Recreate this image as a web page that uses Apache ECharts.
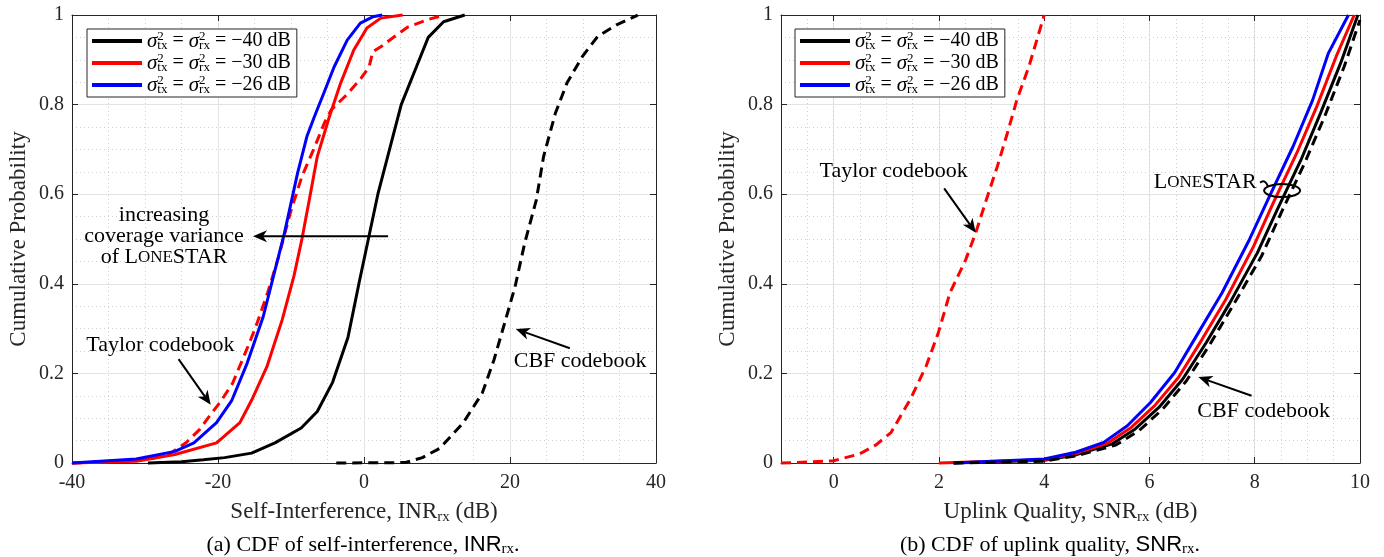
<!DOCTYPE html>
<html><head><meta charset="utf-8">
<script src="https://cdn.jsdelivr.net/npm/echarts@6/dist/echarts.min.js"></script>
<style>html,body{margin:0;padding:0;background:#fff}#c{width:1384px;height:557px}</style>
</head><body><div id="c"></div>
<script>
// ---------- data: (a) self-interference INR_rx (dB) vs CDF ----------
const inrLone40 = [[-29.6,0],[-25,0.003],[-22,0.007],[-19.1,0.012],[-15.4,0.022],[-12.2,0.045],[-8.6,0.078],[-6.4,0.115],[-4.3,0.18],[-2.2,0.28],[-0.7,0.40],[0.6,0.50],[1.9,0.60],[3.5,0.70],[5.1,0.80],[7.2,0.885],[8.8,0.95],[10.9,0.985],[13.8,1.0]];
const inrLone30 = [[-40,0],[-31.2,0.004],[-25.9,0.019],[-20.2,0.045],[-17,0.09],[-15.4,0.14],[-13.3,0.215],[-11.2,0.32],[-9.6,0.417],[-8.5,0.50],[-7.5,0.587],[-6.4,0.684],[-4.8,0.77],[-3.2,0.848],[-1.4,0.922],[0.4,0.971],[2.3,0.993],[5.3,1.0]];
const inrLone26 = [[-40,0],[-31.2,0.009],[-25.9,0.026],[-23.3,0.045],[-20.2,0.09],[-18.1,0.14],[-16,0.223],[-13.8,0.327],[-12.2,0.43],[-10.9,0.513],[-9.1,0.647],[-7.8,0.73],[-6.8,0.773],[-5.5,0.826],[-4.1,0.884],[-2.3,0.944],[-0.5,0.982],[1.2,0.996],[2.5,1.0]];
const inrTaylor = [[-40,0],[-33,0.004],[-29,0.01],[-26.5,0.022],[-24.4,0.045],[-22.5,0.075],[-21.2,0.104],[-19.6,0.138],[-18,0.178],[-15.9,0.26],[-14.8,0.305],[-13.2,0.38],[-11.7,0.46],[-10.1,0.558],[-8.5,0.64],[-6.9,0.70],[-5.4,0.76],[-4.5,0.788],[-2.2,0.825],[-0.4,0.859],[0.7,0.884],[1.2,0.918],[2.3,0.929],[4.1,0.951],[6,0.973],[8.8,0.99],[11,1.0]];
const inrCBF = [[-3.8,0],[5.7,0.001],[8,0.012],[10.4,0.033],[13.6,0.09],[16.2,0.156],[17.8,0.23],[19.4,0.32],[20.7,0.394],[22,0.49],[23.6,0.587],[24.6,0.684],[26.2,0.78],[27.8,0.848],[29.9,0.907],[32,0.952],[34.6,0.978],[37.3,0.998],[37.5,1.0]];
// ---------- data: (b) uplink quality SNR_rx (dB) vs CDF ----------
const snrLone40 = [[2.28,0],[4.0,0.006],[4.6,0.018],[5.28,0.042],[5.73,0.076],[6.18,0.124],[6.63,0.187],[7.08,0.269],[7.53,0.358],[8.05,0.469],[8.43,0.566],[8.88,0.677],[9.25,0.781],[9.63,0.892],[9.96,1.0]];
const snrLone30 = [[2.0,0],[4.0,0.007],[4.6,0.021],[5.2,0.044],[5.66,0.08],[6.1,0.128],[6.55,0.191],[7.0,0.276],[7.45,0.365],[7.98,0.484],[8.35,0.58],[8.8,0.692],[9.18,0.796],[9.55,0.908],[9.89,1.0]];
const snrLone26 = [[2.28,0],[4.0,0.009],[4.6,0.024],[5.13,0.046],[5.58,0.083],[6.02,0.135],[6.48,0.202],[6.93,0.291],[7.38,0.38],[7.9,0.499],[8.28,0.595],[8.73,0.707],[9.1,0.81],[9.4,0.915],[9.78,1.0]];
const snrTaylor = [[-1,0],[-0.5,0.002],[0,0.005],[0.49,0.02],[0.8,0.04],[1.09,0.068],[1.46,0.143],[1.76,0.217],[1.99,0.291],[2.21,0.38],[2.51,0.454],[2.7,0.514],[2.88,0.58],[3.11,0.662],[3.3,0.736],[3.48,0.81],[3.71,0.885],[3.86,0.944],[4.0,1.0]];
const snrCBF = [[2.28,0],[4.0,0.004],[4.6,0.016],[5.36,0.04],[5.8,0.072],[6.25,0.12],[6.7,0.183],[7.15,0.265],[7.6,0.354],[8.13,0.462],[8.5,0.558],[8.95,0.67],[9.33,0.774],[9.7,0.885],[10,0.989]];
// ---------- labels ----------
const legendNames = ['−40', '−30', '−26'];
const xTicksB = [0, 2, 4, 6, 8, 10];
const yTitle = 'Cumulative Probability';
const xTitleA = 'Self-Interference, INR{sub|rx} (dB)';
const xTitleB = 'Uplink Quality, SNR{sub|rx} (dB)';
const captionA = '(a) CDF of self-interference, {n|INR}{r|rx}.';
const captionB = '(b) CDF of uplink quality, {n|SNR}{r|rx}.';

const F = '"Liberation Serif", "Times New Roman", serif';
const S = '"Liberation Sans", Arial, sans-serif';
const AX = '#262626', MAJ = '#e3e3e3', MIN = '#cfcfcf';
const TF = 20;

const chart = echarts.init(document.getElementById('c'));

const subRich = { sub: { fontFamily: F, fontSize: 15, verticalAlign: 'bottom', lineHeight: 15, color: AX } };
function tickStyle(){ return { show: true, inside: true, length: 6, lineStyle: { color: AX, width: 1 } }; }
function axLine(){ return { show: true, onZero: false, lineStyle: { color: AX, width: 1 } }; }
const yFmt = v => (v === 0 || v === 1) ? String(v) : v.toFixed(1);

function yAxes(g) {
  return [
    { gridIndex: g, type: 'value', min: 0, max: 1, interval: 0.2, position: 'left',
      axisLine: axLine(), axisTick: tickStyle(),
      axisLabel: { formatter: yFmt, fontFamily: F, fontSize: TF, color: AX, margin: 8 },
      splitLine: { show: true, lineStyle: { color: MAJ, width: 1 } },
      minorTick: { show: false, splitNumber: 4 },
      minorSplitLine: { show: true, lineStyle: { color: MIN, width: 1, type: [1, 3] } },
      name: yTitle, nameLocation: 'middle', nameGap: 42,
      nameTextStyle: { fontFamily: F, fontSize: 23, color: AX } },
    { gridIndex: g, type: 'value', min: 0, max: 1, interval: 0.2, position: 'right',
      axisLine: axLine(), axisTick: tickStyle(), axisLabel: { show: false }, splitLine: { show: false } }
  ];
}

const xAxis = [
  { gridIndex: 0, type: 'value', min: -40, max: 40, interval: 20, position: 'bottom',
    axisLine: axLine(), axisTick: tickStyle(),
    axisLabel: { fontFamily: F, fontSize: TF, color: AX, margin: 10 },
    splitLine: { show: true, lineStyle: { color: MAJ, width: 1 } },
    minorTick: { show: false, splitNumber: 4 },
    minorSplitLine: { show: true, lineStyle: { color: MIN, width: 1, type: [1, 3] } },
    name: xTitleA, nameLocation: 'middle', nameGap: 36,
    nameTextStyle: { fontFamily: F, fontSize: 23, color: AX, lineHeight: 26, rich: subRich } },
  { gridIndex: 0, type: 'value', min: -40, max: 40, interval: 20, position: 'top',
    axisLine: axLine(), axisTick: tickStyle(), axisLabel: { show: false }, splitLine: { show: false } },
  { gridIndex: 1, type: 'value', min: -1, max: 10, interval: 1, position: 'bottom',
    axisLine: axLine(), axisTick: Object.assign(tickStyle(), { customValues: xTicksB }),
    axisLabel: { customValues: xTicksB, fontFamily: F, fontSize: TF, color: AX, margin: 10 },
    splitLine: { show: true, lineStyle: { color: MAJ, width: 1 } },
    name: xTitleB, nameLocation: 'middle', nameGap: 36,
    nameTextStyle: { fontFamily: F, fontSize: 23, color: AX, lineHeight: 26, rich: subRich } },
  { gridIndex: 1, type: 'value', min: -1, max: 10, interval: 0.5, position: 'bottom',
    axisLine: { show: false }, axisTick: { show: false }, axisLabel: { show: false },
    splitLine: { show: true, lineStyle: { color: MIN, width: 1, type: [1, 3] } } },
  { gridIndex: 1, type: 'value', min: -1, max: 10, interval: 1, position: 'top',
    axisLine: axLine(), axisTick: Object.assign(tickStyle(), { customValues: xTicksB }),
    axisLabel: { show: false }, splitLine: { show: false } }
];
const yAxis = yAxes(0).concat(yAxes(1));

function ser(name, data, color, dashed, xi, yi, z) {
  return { name, type: 'line', data, xAxisIndex: xi, yAxisIndex: yi, showSymbol: false, symbol: 'none',
    clip: false, z: z, lineStyle: { color, width: 3, type: dashed ? [10, 6] : 'solid' }, itemStyle: { color },
    emphasis: { disabled: true } };
}

const series = [
  ser('CBF codebook', inrCBF, '#000', true, 0, 0, 2),
  ser(legendNames[0], inrLone40, '#000', false, 0, 0, 3),
  ser(legendNames[1], inrLone30, '#ff0000', false, 0, 0, 3),
  ser('Taylor codebook', inrTaylor, '#ff0000', true, 0, 0, 3),
  ser(legendNames[2], inrLone26, '#0000ff', false, 0, 0, 4),
  ser(legendNames[0], snrLone40, '#000', false, 2, 2, 3),
  ser(legendNames[1], snrLone30, '#ff0000', false, 2, 2, 3),
  ser(legendNames[2], snrLone26, '#0000ff', false, 2, 2, 3),
  ser('CBF codebook', snrCBF, '#000', true, 2, 2, 4),
  ser('Taylor codebook', snrTaylor, '#ff0000', true, 2, 2, 4)
];

const legRich = {
  m: { fontFamily: F, fontSize: 20, lineHeight: 22, color: '#000' },
  g: { fontFamily: F, fontSize: 21, fontStyle: 'italic', lineHeight: 22, color: '#000' },
  p: { fontFamily: F, fontSize: 13, lineHeight: 12, verticalAlign: 'top', width: 0, color: '#000' },
  b: { fontFamily: F, fontSize: 13, lineHeight: 13, verticalAlign: 'bottom', color: '#000' }
};
function legFmt(name) {
  return '{g|σ}{p|2}{b|tx}{m| = }{g|σ}{p|2}{b|rx}{m| = ' + name + ' dB}';
}
function legend(left) {
  return { left, top: 29, orient: 'vertical', data: legendNames, icon: 'rect', itemWidth: 50, itemHeight: 4,
    itemGap: 0, padding: [1, 6, 1, 5], borderColor: AX, borderWidth: 1, backgroundColor: '#fff',
    formatter: legFmt, textStyle: { rich: legRich }, selectedMode: false };
}

chart.setOption({
  animation: false,
  backgroundColor: '#fff',
  grid: [
    { left: 72, top: 15, width: 584, height: 448, containLabel: false },
    { left: 781, top: 15, width: 579, height: 448, containLabel: false }
  ],
  xAxis, yAxis, series,
  legend: [legend(87), legend(795)]
});

// ---------- annotations ----------
function P(g, x, y) {
  return chart.convertToPixel(g === 0 ? { xAxisIndex: 0, yAxisIndex: 0 } : { xAxisIndex: 2, yAxisIndex: 2 }, [x, y]);
}
function arrow(p0, p1) {
  const dx = p1[0] - p0[0], dy = p1[1] - p0[1], L = Math.hypot(dx, dy);
  const ux = dx / L, uy = dy / L, nx = -uy, ny = ux;
  const hl = 14, hw = 6, back = 10;
  const base = [p1[0] - ux * hl, p1[1] - uy * hl];
  const notch = [p1[0] - ux * back, p1[1] - uy * back];
  return [
    { type: 'line', z: 50, shape: { x1: p0[0], y1: p0[1], x2: notch[0], y2: notch[1] }, style: { stroke: '#000', lineWidth: 2 } },
    { type: 'polygon', z: 50, shape: { points: [p1, [base[0] + nx * hw, base[1] + ny * hw], notch, [base[0] - nx * hw, base[1] - ny * hw]] }, style: { fill: '#000' } }
  ];
}
const AF = 22;
const annRich = {
  b: { fontFamily: F, fontSize: AF, color: '#000' },
  s: { fontFamily: F, fontSize: 17, color: '#000' }
};
function txt(p, text) {
  return { type: 'text', z: 50, x: p[0], y: p[1],
    style: { text, fontFamily: F, fontSize: AF, fill: '#000', align: 'center', verticalAlign: 'middle', lineHeight: 21, rich: annRich } };
}
const G = [];
G.push(txt(P(0, -27.4, 0.506), 'increasing\ncoverage variance\nof {b|L}{s|ONE}{b|STAR}'));
G.push(...arrow(P(0, 3.3, 0.506), P(0, -15.2, 0.506)));
G.push(txt(P(0, -27.9, 0.264), 'Taylor codebook'));
G.push(...arrow(P(0, -25.4, 0.232), P(0, -21, 0.13)));
G.push(txt(P(0, 29.6, 0.227), 'CBF codebook'));
G.push(...arrow(P(0, 28.2, 0.256), P(0, 20.8, 0.299)));

G.push(txt(P(1, 1.14, 0.651), 'Taylor codebook'));
G.push(...arrow(P(1, 2.10, 0.613), P(1, 2.7, 0.514)));
G.push(txt(P(1, 7.06, 0.627), '{b|L}{s|ONE}{b|STAR}'));
const ec = P(1, 8.52, 0.608);
G.push({ type: 'ellipse', z: 50, shape: { cx: ec[0], cy: ec[1], rx: 18, ry: 6.5 }, style: { fill: 'none', stroke: '#000', lineWidth: 2 } });
G.push({ type: 'bezierCurve', z: 50, shape: { x1: ec[0] - 22, y1: ec[1] - 8, cpx1: ec[0] - 17, cpy1: ec[1] - 12, x2: ec[0] - 14, y2: ec[1] - 4 }, style: { fill: 'none', stroke: '#000', lineWidth: 2 } });
G.push(txt(P(1, 8.17, 0.115), 'CBF codebook'));
G.push(...arrow(P(1, 7.94, 0.15), P(1, 6.93, 0.192)));

const capRich = {
  n: { fontFamily: S, fontSize: 22, color: '#000' },
  r: { fontFamily: F, fontSize: 15, verticalAlign: 'bottom', lineHeight: 15, color: '#000' }
};
G.push({ type: 'text', x: 363, y: 545, style: { text: captionA, fontFamily: F, fontSize: 22, fill: '#000', align: 'center', verticalAlign: 'middle', lineHeight: 24, rich: capRich } });
G.push({ type: 'text', x: 1050, y: 545, style: { text: captionB, fontFamily: F, fontSize: 22, fill: '#000', align: 'center', verticalAlign: 'middle', lineHeight: 24, rich: capRich } });

chart.setOption({ graphic: G });
</script>
</body></html>
